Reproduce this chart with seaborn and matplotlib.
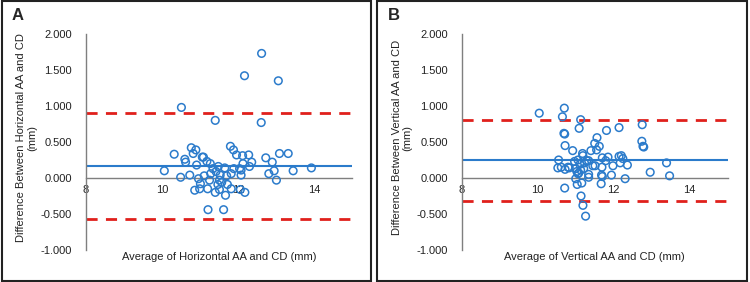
import numpy as np
import pandas as pd
import matplotlib.pyplot as plt
import seaborn as sns
from matplotlib.patches import Rectangle

# panel A - horizontal
h_avg = [12.62, 12.17, 13.06, 10.51, 11.40, 12.61, 10.77, 10.89, 10.82, 10.32,
         11.80, 11.88, 11.96, 12.12, 12.28, 12.73, 13.09, 13.32, 11.06, 11.09,
         10.60, 10.62, 11.18, 11.27, 10.91, 12.90, 12.13, 12.36, 12.30, 10.06,
         13.45, 13.93, 11.48, 11.34, 11.65, 11.89, 12.04, 12.08, 11.42, 12.95,
         12.81, 13.01, 10.49, 10.73, 11.11, 11.28, 11.53, 11.70, 11.82, 12.08,
         10.96, 11.25, 11.51, 11.57, 11.01, 11.47, 11.72, 10.86, 10.99, 11.20,
         11.40, 11.51, 11.82, 12.06, 12.18, 11.67, 11.21, 11.62]
h_diff = [1.73, 1.42, 1.35, 0.98, 0.80, 0.77, 0.42, 0.39, 0.34, 0.33,
          0.44, 0.39, 0.32, 0.31, 0.32, 0.28, 0.34, 0.34, 0.29, 0.29,
          0.26, 0.22, 0.23, 0.20, 0.18, 0.22, 0.20, 0.22, 0.16, 0.10,
          0.10, 0.14, 0.16, 0.13, 0.14, 0.13, 0.13, 0.11, 0.09, 0.10,
          0.06, -0.03, 0.01, 0.04, 0.03, 0.06, 0.04, 0.03, 0.06, 0.04,
          -0.01, -0.03, -0.03, -0.06, -0.08, -0.09, -0.09, -0.17, -0.15, -0.15,
          -0.20, -0.16, -0.15, -0.16, -0.20, -0.24, -0.44, -0.44]
h_mean, h_upper, h_lower = 0.17, 0.90, -0.57

# panel B - vertical
v_avg = [10.04, 10.70, 10.65, 11.13, 11.09, 10.69, 10.71, 11.81, 12.14, 12.75,
         12.74, 12.77, 12.79, 11.56, 11.50, 11.55, 11.62, 10.72, 10.92, 11.40,
         11.18, 11.19, 10.55, 10.53, 10.62, 10.72, 10.80, 10.83, 10.97, 11.06,
         11.11, 11.23, 11.29, 11.34, 11.45, 11.51, 11.70, 11.69, 11.79, 11.85,
         11.98, 12.14, 12.20, 12.17, 12.24, 12.36, 13.39, 12.96, 13.47, 11.00,
         11.03, 11.08, 11.13, 11.21, 11.34, 11.34, 11.00, 11.06, 11.16, 11.04,
         11.68, 11.70, 11.67, 11.94, 12.30, 10.71, 11.14, 11.19, 11.26]
v_diff = [0.90, 0.97, 0.85, 0.81, 0.69, 0.62, 0.61, 0.66, 0.70, 0.74,
          0.51, 0.44, 0.43, 0.56, 0.48, 0.39, 0.44, 0.45, 0.38, 0.38,
          0.34, 0.31, 0.25, 0.14, 0.15, 0.12, 0.15, 0.14, 0.23, 0.25,
          0.19, 0.21, 0.24, 0.24, 0.17, 0.17, 0.28, 0.15, 0.24, 0.29,
          0.17, 0.30, 0.31, 0.21, 0.27, 0.18, 0.21, 0.08, 0.03, 0.13,
          0.09, 0.07, 0.11, 0.13, 0.05, 0.01, -0.01, 0.06, -0.07, -0.09,
          0.04, 0.02, -0.08, 0.04, -0.01, -0.14, -0.25, -0.38, -0.53]
v_mean, v_upper, v_lower = 0.245, 0.80, -0.325

sns.set_style("white")
plt.rcParams['font.family'] = ['Liberation Sans', 'DejaVu Sans']

blue = '#2b7bcb'
red = '#e0201c'
grey = '#7f7f7f'

fig = plt.figure(figsize=(7.5, 2.82), dpi=100)

panels = [
    ('A', 0.1147, h_avg, h_diff, h_mean, h_upper, h_lower, 'Horizontal'),
    ('B', 0.6156, v_avg, v_diff, v_mean, v_upper, v_lower, 'Vertical'),
]

for letter, left, xs, ys, m, up, lo, name in panels:
    ax = fig.add_axes([left, 0.1135, 0.3547, 0.766])
    df = pd.DataFrame({'avg': xs, 'diff': ys})
    sns.scatterplot(data=df, x='avg', y='diff', ax=ax, s=30,
                    facecolor='none', edgecolor=blue, linewidth=1.1, zorder=3)
    ax.axhline(m, color=blue, lw=1.5, zorder=2)
    ax.axhline(up, color=red, lw=2, ls=(0, (4, 3)), zorder=2)
    ax.axhline(lo, color=red, lw=2, ls=(0, (4, 3)), zorder=2)

    ax.set_xlim(8, 15)
    ax.set_ylim(-1, 2)
    ax.set_xticks([8, 10, 12, 14])
    ax.set_yticks([-1, -0.5, 0, 0.5, 1, 1.5, 2])
    ax.set_yticklabels([f'{v:.3f}' for v in [-1, -0.5, 0, 0.5, 1, 1.5, 2]])
    ax.tick_params(length=0, labelsize=8, colors='#222222')
    ax.tick_params(axis='x', pad=5)
    ax.tick_params(axis='y', pad=10)

    for s in ['top', 'right']:
        ax.spines[s].set_visible(False)
    ax.spines['bottom'].set_position(('data', 0))
    ax.spines['bottom'].set_color(grey)
    ax.spines['left'].set_color(grey)
    ax.spines['bottom'].set_linewidth(1)
    ax.spines['left'].set_linewidth(1)

    ax.set_xlabel(f'Average of {name} AA and CD (mm)', fontsize=8, color='#222222')
    ax.xaxis.set_label_coords(0.5, -0.01)
    ax.set_ylabel(f'Difference Between {name} AA and CD\n(mm)', fontsize=8,
                  color='#222222', linespacing=1.1)
    ax.yaxis.set_label_coords(-0.185, 0.52)

    fx = left - 0.1147
    fig.text(fx + 0.016, 0.93, letter, fontsize=12, fontweight='bold')

fig.patches.append(Rectangle((0.003, 0.005), 0.492, 0.99, transform=fig.transFigure,
                             fill=False, edgecolor='#222222', lw=1.5))
fig.patches.append(Rectangle((0.503, 0.005), 0.493, 0.99, transform=fig.transFigure,
                             fill=False, edgecolor='#222222', lw=1.5))

fig.savefig('out.png', dpi=100)
